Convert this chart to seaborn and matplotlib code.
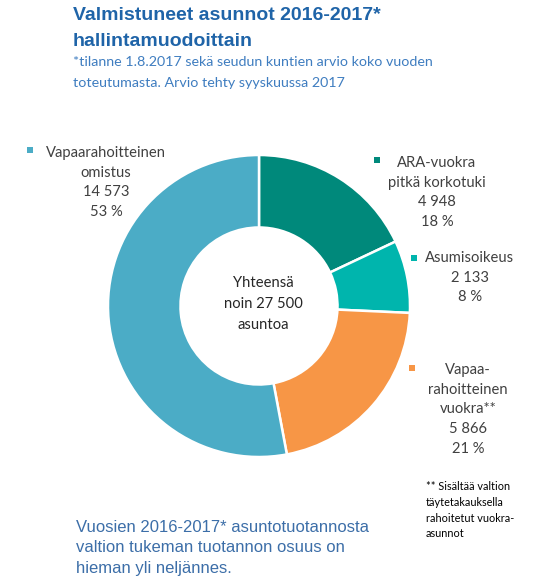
import matplotlib
matplotlib.use("Agg")
import matplotlib.pyplot as plt
import seaborn as sns

# Data
categories = ["ARA-vuokra\npitkä korkotuki", "Asumisoikeus",
              "Vapaa-\nrahoitteinen\nvuokra**", "Vapaarahoitteinen\nomistus"]
counts = [4948, 2133, 5866, 14573]
count_labels = ["4 948", "2 133", "5 866", "14 573"]
shares = ["18 %", "8 %", "21 %", "53 %"]
colors = ["#00897B", "#00B5AD", "#F79646", "#4BACC6"]

title = ["Valmistuneet asunnot 2016-2017*", "hallintamuodoittain"]
subtitle = ["*tilanne 1.8.2017 sekä seudun kuntien arvio koko vuoden",
            "toteutumasta. Arvio tehty syyskuussa 2017"]
center_text = ["Yhteensä", "noin 27 500", "asuntoa"]
footnote = ["** Sisältää valtion", "täytetakauksella", "rahoitetut vuokra-", "asunnot"]
bottom_text = ["Vuosien 2016-2017* asuntotuotannosta",
               "valtion tukeman tuotannon osuus on",
               "hieman yli neljännes."]

sns.set_theme(style="white")
palette = sns.color_palette(colors)

W, H = 538, 581
fig = plt.figure(figsize=(W / 100, H / 100), dpi=100)
fig.patch.set_facecolor("white")

# donut: center (259, 306), radius 151 px
cx, cy, r = 259, 306, 151
ax = fig.add_axes([(cx - r) / W, (H - cy - r) / H, 2 * r / W, 2 * r / H])
ax.pie(counts, colors=palette, startangle=90, counterclock=False, radius=1,
       wedgeprops=dict(width=0.48, edgecolor="white", linewidth=1.8))
ax.set_xlim(-1, 1)
ax.set_ylim(-1, 1)
ax.set_aspect("equal")

# overlay in pixel coordinates for all the texts
ov = fig.add_axes([0, 0, 1, 1])
ov.set_xlim(0, W)
ov.set_ylim(H, 0)
ov.axis("off")
ov.patch.set_alpha(0)

label_font = "Lato"
label_color = "#404040"


def lines(x, y0, step, texts, **kw):
    for i, t in enumerate(texts):
        ov.text(x, y0 + i * step, t, va="center", **kw)


# title and subtitle
lines(73, 16, 25, title, ha="left", fontsize=14, fontweight="bold",
      family="Liberation Sans", color="#1F64A8")
lines(73, 62, 21, subtitle, ha="left", fontsize=10.3, family=label_font, color="#3F7DC0")

# slice labels: (square x, square y, text center x, first line y)
label_pos = [(377, 160, 437, 163), (414, 258, 470, 258),
             (412, 368, 468, 370), (30, 150, 106, 153)]
for name, cnt, sh, col, (sx, sy, tx, ty) in zip(categories, count_labels, shares,
                                                 palette, label_pos):
    ov.scatter([sx], [sy], marker="s", s=22, color=col, linewidths=0)
    txt = name.split("\n") + [cnt, sh]
    lines(tx, ty, 19.7, txt, ha="center", fontsize=10.6, family=label_font,
          color=label_color)

# center of donut
lines(263, 283, 21, center_text, ha="center", fontsize=10.6, family=label_font,
      color="#262626")

# footnote
lines(426, 487, 15.5, footnote, ha="left", fontsize=7.8, family=label_font, color="black")

# bottom note
lines(76, 528, 20, bottom_text, ha="left", fontsize=12, family="Liberation Sans",
      color="#3C6EA8")

fig.savefig("out.png", dpi=100, facecolor="white")
